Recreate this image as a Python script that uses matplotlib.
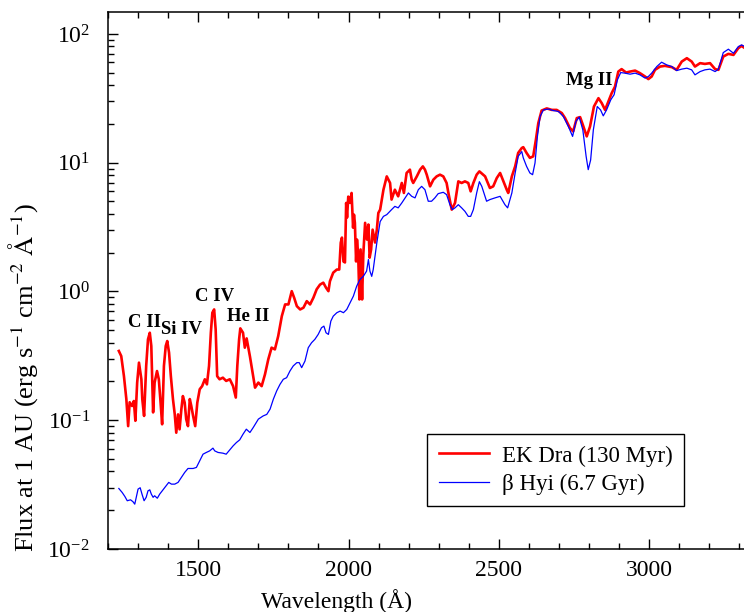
import matplotlib
matplotlib.use("Agg")
from matplotlib import pyplot as plt

# EK Dra spectrum (red)
ek_wave = [1236, 1244, 1253, 1261, 1267, 1272, 1280, 1286, 1291, 1297, 1303, 1307, 1311, 1314, 1320,
           1327, 1333, 1339, 1344, 1350, 1355, 1363, 1369, 1374, 1380, 1386, 1392, 1397, 1403, 1409,
           1416, 1422, 1427, 1433, 1438, 1444, 1449, 1455, 1460, 1466, 1472, 1477, 1483, 1490, 1497,
           1505, 1513, 1522, 1529, 1536, 1542, 1547, 1553, 1558, 1563, 1571, 1582, 1593, 1605, 1616,
           1625, 1630, 1636, 1640, 1649, 1655, 1661, 1672, 1681, 1689, 1700, 1711, 1722, 1733, 1744,
           1755, 1766, 1778, 1789, 1800, 1811, 1819, 1828, 1839, 1850, 1861, 1872, 1883, 1894, 1905,
           1916, 1925, 1933, 1938, 1949, 1961, 1969, 1974, 1978, 1983, 1988, 1992, 1995, 1999, 2005,
           2010, 2015, 2018, 2021, 2025, 2028, 2032, 2036, 2040, 2045, 2049, 2055, 2061, 2066, 2070,
           2075, 2080, 2088, 2094, 2099, 2105, 2116, 2127, 2138, 2143, 2154, 2165, 2177, 2184, 2193,
           2204, 2210, 2215, 2227, 2238, 2247, 2254, 2260, 2271, 2282, 2293, 2304, 2315, 2326, 2332,
           2343, 2354, 2365, 2376, 2387, 2398, 2406, 2415, 2426, 2435, 2454, 2470, 2481, 2493, 2504,
           2515, 2526, 2531, 2543, 2554, 2564, 2576, 2581, 2592, 2603, 2614, 2623, 2631, 2642, 2659,
           2676, 2692, 2709, 2720, 2736, 2747, 2759, 2770, 2779, 2792, 2803, 2816, 2831, 2842, 2853,
           2864, 2875, 2886, 2897, 2908, 2923, 2936, 2953, 2969, 2986, 2997, 3008, 3019, 3036, 3052,
           3075, 3091, 3108, 3125, 3141, 3152, 3169, 3185, 3202, 3219, 3230, 3246, 3263, 3280, 3296,
           3307, 3318]
ek_flux = [0.345, 0.315, 0.220, 0.146, 0.090, 0.138, 0.129, 0.141, 0.099, 0.196, 0.280, 0.241, 0.208, 0.146, 0.108,
           0.264, 0.425, 0.478, 0.377, 0.115, 0.196, 0.241, 0.208, 0.146, 0.093, 0.264, 0.377, 0.412, 0.335, 0.220,
           0.146, 0.111, 0.080, 0.111, 0.085, 0.122, 0.154, 0.137, 0.102, 0.090, 0.146, 0.129, 0.108, 0.090, 0.137,
           0.174, 0.184, 0.208, 0.190, 0.264, 0.478, 0.684, 0.725, 0.508, 0.220, 0.208, 0.214, 0.202, 0.208, 0.184,
           0.150, 0.264, 0.425, 0.517, 0.478, 0.366, 0.432, 0.313, 0.234, 0.179, 0.196, 0.184, 0.227, 0.297, 0.366,
           0.355, 0.450, 0.643, 0.793, 0.793, 1.005, 0.894, 0.769, 0.725, 0.748, 0.841, 0.793, 0.894, 1.04, 1.13,
           1.17, 1.07, 1.005, 1.20, 1.40, 1.48, 1.48, 2.39, 2.62, 1.71, 1.68, 4.87, 3.75, 5.45, 4.87,
           5.82, 3.13, 3.95, 3.41, 1.71, 2.53, 1.94, 0.867, 2.12, 0.867, 1.94, 3.41, 2.53, 3.31, 1.83,
           2.12, 3.02, 2.40, 3.02, 4.07, 4.32, 6.17, 7.83, 6.96, 5.17, 6.17, 5.48, 6.96, 5.82, 8.32,
           8.83, 7.38, 6.96, 7.83, 8.83, 9.36, 8.83, 8.07, 6.55, 7.38, 7.83, 8.07, 7.83, 6.96, 5.82,
           4.32, 4.87, 7.16, 6.96, 7.16, 6.96, 5.99, 6.96, 8.07, 8.56, 7.83, 6.36, 6.55, 7.61, 8.32,
           7.16, 6.17, 5.82, 7.83, 9.36, 11.9, 13.0, 13.2, 11.9, 10.9, 11.2, 15.1, 20.3, 25.4, 26.4,
           25.7, 25.7, 24.3, 22.2, 18.6, 17.5, 22.2, 22.6, 19.7, 16.0, 19.1, 27.3, 31.7, 29.0, 25.7,
           29.9, 34.7, 39.0, 51.0, 53.3, 50.1, 51.0, 51.9, 49.6, 46.7, 44.6, 46.7, 52.6, 55.8, 56.5,
           55.2, 52.6, 61.0, 64.8, 61.0, 55.8, 59.3, 58.5, 59.3, 53.3, 52.6, 66.7, 70.0, 68.7, 77.5,
           80.7, 77.5]

# beta Hyi spectrum (blue)
bhyi_wave = [1236, 1247, 1256, 1264, 1275, 1283, 1289, 1294, 1300, 1307, 1313, 1320, 1327, 1333, 1339,
             1344, 1350, 1355, 1364, 1372, 1383, 1394, 1402, 1411, 1422, 1433, 1444, 1455, 1466, 1483,
             1494, 1505, 1516, 1527, 1538, 1549, 1555, 1566, 1582, 1593, 1605, 1616, 1627, 1638, 1649,
             1660, 1672, 1683, 1700, 1716, 1728, 1739, 1750, 1761, 1772, 1783, 1794, 1805, 1816, 1828,
             1836, 1844, 1855, 1866, 1877, 1888, 1899, 1910, 1918, 1925, 1933, 1941, 1949, 1961, 1972,
             1983, 1994, 2005, 2016, 2027, 2038, 2049, 2060, 2066, 2071, 2077, 2082, 2088, 2094, 2099,
             2105, 2116, 2127, 2143, 2154, 2165, 2177, 2188, 2199, 2210, 2221, 2232, 2243, 2254, 2265,
             2276, 2287, 2298, 2315, 2326, 2337, 2345, 2354, 2365, 2376, 2387, 2398, 2406, 2415, 2426,
             2435, 2443, 2459, 2470, 2487, 2504, 2520, 2529, 2543, 2554, 2564, 2576, 2581, 2592, 2603,
             2612, 2620, 2628, 2637, 2648, 2664, 2681, 2698, 2714, 2731, 2745, 2756, 2767, 2779, 2790,
             2797, 2805, 2814, 2827, 2838, 2847, 2858, 2872, 2883, 2894, 2905, 2919, 2936, 2953, 2969,
             2986, 2997, 3008, 3025, 3041, 3058, 3075, 3091, 3108, 3125, 3141, 3152, 3169, 3185, 3202,
             3219, 3230, 3246, 3263, 3280, 3296, 3307, 3318]
bhyi_flux = [0.0295, 0.0275, 0.0256, 0.0237, 0.0241, 0.0233, 0.0223, 0.0252, 0.0292, 0.0299, 0.0267, 0.0237, 0.0252, 0.0283, 0.0288,
             0.0267, 0.0252, 0.0259, 0.0248, 0.0267, 0.0288, 0.0310, 0.0329, 0.0319, 0.0319, 0.0329, 0.0360, 0.0393, 0.0422, 0.0422,
             0.0430, 0.0484, 0.0545, 0.0562, 0.0578, 0.0607, 0.0578, 0.0562, 0.0555, 0.0545, 0.0589, 0.0632, 0.0671, 0.0704, 0.0779,
             0.0852, 0.0803, 0.0878, 0.102, 0.108, 0.111, 0.122, 0.146, 0.169, 0.190, 0.208, 0.214, 0.241, 0.264, 0.280,
             0.280, 0.256, 0.288, 0.366, 0.400, 0.425, 0.464, 0.523, 0.538, 0.478, 0.464, 0.588, 0.643, 0.684, 0.704,
             0.684, 0.725, 0.818, 0.920, 1.10, 1.24, 1.31, 1.44, 1.77, 1.44, 1.31, 1.48, 1.88, 2.39, 2.85,
             3.49, 3.83, 3.95, 4.32, 4.58, 4.46, 4.87, 5.33, 5.82, 5.48, 5.33, 6.17, 6.55, 6.17, 5.02,
             5.02, 5.33, 5.75, 5.89, 5.65, 4.72, 4.32, 4.46, 4.72, 4.46, 4.19, 3.83, 3.83, 4.32, 5.82,
             7.12, 6.55, 5.02, 5.17, 5.33, 5.48, 4.72, 4.46, 5.82, 8.32, 11.2, 12.2, 10.9, 9.36, 8.32,
             8.07, 9.95, 16.0, 22.9, 25.7, 26.1, 25.4, 25.0, 22.9, 19.1, 16.0, 20.9, 22.6, 18.0, 11.2,
             8.83, 10.5, 18.0, 27.3, 25.7, 23.1, 25.7, 30.8, 33.7, 44.0, 50.1, 49.6, 48.7, 49.6, 48.1,
             45.4, 46.7, 49.6, 55.8, 60.3, 57.5, 55.8, 51.9, 53.3, 54.2, 52.6, 48.1, 51.0, 52.6, 53.3,
             51.0, 53.3, 71.6, 76.1, 70.8, 79.7, 82.2, 79.7]

# line identifications
line_names = ["C II", "Si IV", "C IV", "He II", "Mg II"]
line_wave = [1320, 1443, 1553, 1666, 2800]
line_flux = [0.575, 0.507, 0.915, 0.640, 43.2]

plt.rcParams["font.family"] = "serif"
plt.rcParams["font.serif"] = ["Liberation Serif", "DejaVu Serif"]
plt.rcParams["mathtext.fontset"] = "stix"

fig = plt.figure(figsize=(7.44, 6.12), dpi=100)
ax = fig.add_axes([108 / 744, 1 - 549 / 612, 637.5 / 744, 537 / 612])

ax.plot(ek_wave, ek_flux, color="#ff0000", lw=1.9, label="EK Dra (130 Myr)")
ax.plot(bhyi_wave, bhyi_flux, color="#0000ff", lw=0.9, label="β Hyi (6.7 Gyr)")

for name, w, f in zip(line_names, line_wave, line_flux):
    ax.text(w, f, name, ha="center", va="center", fontsize=13.5, fontweight="bold")

ax.set_yscale("log")
ax.set_xlim(1200, 3320)
ax.set_ylim(0.01, 148)
ax.set_xticks([1500, 2000, 2500, 3000])
ax.set_xticks(range(1200, 3320, 100), minor=True)

ax.tick_params(which="both", direction="in", top=True, right=False, labelsize=17, width=1.0)
ax.tick_params(which="major", length=7)
ax.tick_params(which="minor", length=4)
ax.tick_params(axis="x", pad=8)
ax.tick_params(axis="y", pad=13)
for sp in ax.spines.values():
    sp.set_linewidth(1.1)

ax.set_xlabel("Wavelength (Å)", fontsize=17)
ax.set_ylabel(r"Flux at 1 AU (erg s$^{-1}$ cm$^{-2}$ $\mathrm{\AA}^{-1}$)", fontsize=19)
ax.xaxis.set_label_coords(0.358, -0.074)
ax.yaxis.set_label_coords(-0.107, 0.32)

leg = ax.legend(loc="lower right", bbox_to_anchor=(0.9035, 0.08), borderaxespad=0,
                fontsize=16.5, frameon=True, fancybox=False, edgecolor="black",
                handlelength=2.2, handletextpad=0.55, borderpad=0.5, labelspacing=0.3,
                framealpha=1)
leg.get_frame().set_linewidth(1.0)

fig.savefig("out.png", dpi=100)
